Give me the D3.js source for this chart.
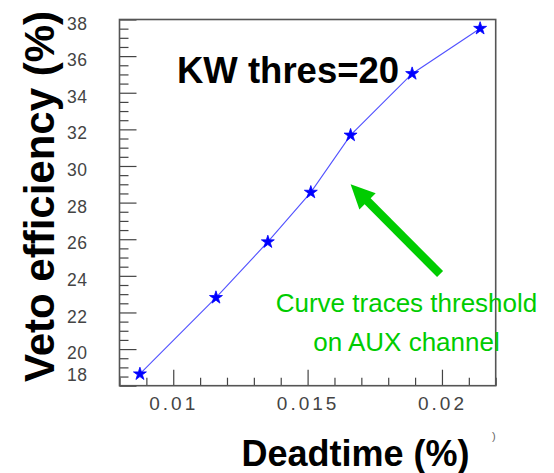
<!DOCTYPE html>
<html>
<head>
<meta charset="utf-8">
<script src="https://cdn.jsdelivr.net/npm/d3@7/dist/d3.min.js"></script>
<style>
  html, body { margin: 0; padding: 0; background: #fff; }
  svg { display: block; }
</style>
</head>
<body>
<script>
// ---- data ----
const deadtime   = [0.00876, 0.01159, 0.01352, 0.01512, 0.01660, 0.01889, 0.02142];
const efficiency = [18.64, 22.81, 25.85, 28.56, 31.68, 35.04, 37.51];
const yTicks = [18, 20, 22, 24, 26, 28, 30, 32, 34, 36, 38];
const xTicks = [0.01, 0.015, 0.02];
const xTickLabels = ["0.01", "0.015", "0.02"];
const titleText = "KW thres=20";
const noteLines = ["Curve traces threshold", "on AUX channel"];
const arrowTail = [0.01993, 24.1];
const arrowTip  = [0.01660, 29.0];

const W = 554, H = 473;
const mLeft = 119.5, mRight = 495.7, mTop = 19.5, mBottom = 385.7;

const svg = d3.select("body").append("svg").attr("width", W).attr("height", H);

const x = d3.scaleLinear().domain([0.008, 0.022]).range([mLeft, mRight]);
const y = d3.scaleLinear().domain([18, 38]).range([mBottom, mTop]);

const yMinor = d3.range(18, 38.001, 0.5).filter(v => Math.abs(v % 2) > 1e-6);
const xMinor = d3.range(0.008, 0.02201, 0.001).map(v => +v.toFixed(4)).filter(v => !xTicks.some(t => Math.abs(t - v) < 1e-7));

// minor ticks
svg.append("g").attr("transform", `translate(${mLeft},0)`)
  .call(d3.axisLeft(y).tickValues(yMinor).tickSize(-9).tickFormat(""))
  .call(g => g.select(".domain").remove())
  .selectAll("line").attr("stroke", "#444").attr("stroke-width", 1.2);
svg.append("g").attr("transform", `translate(0,${mBottom})`)
  .call(d3.axisBottom(x).tickValues(xMinor).tickSize(-8).tickFormat(""))
  .call(g => g.select(".domain").remove())
  .selectAll("line").attr("stroke", "#444").attr("stroke-width", 1.2);

// major Y axis
const gy = svg.append("g").attr("transform", `translate(${mLeft},0)`)
  .call(d3.axisLeft(y).tickValues(yTicks).tickSize(-17).tickPadding(32).tickFormat(d3.format("d")));
gy.select(".domain").remove();
gy.selectAll("line").attr("stroke", "#444").attr("stroke-width", 1.2);
gy.selectAll("text")
  .attr("font-family", "'Liberation Sans', Arial, sans-serif")
  .attr("font-size", 17.5).attr("fill", "#444")
  .attr("letter-spacing", "0.5px")
  .attr("dy", "0.55em")
  .filter(d => d === 18).attr("dy", "-0.3em");

// major X axis
const gx = svg.append("g").attr("transform", `translate(0,${mBottom})`)
  .call(d3.axisBottom(x).tickValues(xTicks).tickSize(-16).tickPadding(8).tickFormat((d, i) => xTickLabels[i]));
gx.select(".domain").remove();
gx.selectAll("line").attr("stroke", "#444").attr("stroke-width", 1.2);
gx.selectAll("text")
  .attr("font-family", "'Liberation Sans', Arial, sans-serif")
  .attr("font-size", 19).attr("fill", "#444")
  .attr("letter-spacing", "3px")
  .attr("dx", "0px")
  .attr("y", 24).attr("dy", 0);

// frame
svg.append("rect")
  .attr("x", mLeft).attr("y", mTop)
  .attr("width", mRight - mLeft).attr("height", mBottom - mTop)
  .attr("fill", "none").attr("stroke", "#555").attr("stroke-width", 1.6);

// data line
const pts = deadtime.map((d, i) => [d, efficiency[i]]);
svg.append("path")
  .datum(pts)
  .attr("d", d3.line().x(d => x(d[0])).y(d => y(d[1])))
  .attr("fill", "none").attr("stroke", "#3333ff").attr("stroke-width", 1.1).attr("opacity", 0.85);

// star markers
svg.selectAll("path.star").data(pts).enter().append("path")
  .attr("class", "star")
  .attr("transform", d => `translate(${x(d[0])},${y(d[1])})`)
  .attr("d", d3.symbol().type(d3.symbolStar).size(52))
  .attr("fill", "#0000ff").attr("stroke", "#0000ff").attr("stroke-width", 0.8);

// title inside plot
svg.append("text")
  .attr("x", 177).attr("y", 82.7)
  .attr("font-family", "'Liberation Sans', Arial, sans-serif")
  .attr("font-weight", "bold").attr("font-size", 36.5).attr("fill", "#000")
  .text(titleText);

// arrow
const green = "#00cc00";
const tx = x(arrowTip[0]), ty = y(arrowTip[1]);
const sx = x(arrowTail[0]), sy = y(arrowTail[1]);
const len = Math.hypot(tx - sx, ty - sy);
const ux = (tx - sx) / len, uy = (ty - sy) / len;
const headLen = 24, headHalf = 11.5;
const bx = tx - ux * headLen, by = ty - uy * headLen;
svg.append("line")
  .attr("x1", sx).attr("y1", sy).attr("x2", bx + ux * 2).attr("y2", by + uy * 2)
  .attr("stroke", green).attr("stroke-width", 8.5);
svg.append("path")
  .attr("d", `M${tx},${ty}L${bx - uy * headHalf},${by + ux * headHalf}L${bx + uy * headHalf},${by - ux * headHalf}Z`)
  .attr("fill", green);

// note text
svg.selectAll("text.note").data(noteLines).enter().append("text")
  .attr("class", "note")
  .attr("x", 406.5).attr("y", (d, i) => 312 + i * 39)
  .attr("text-anchor", "middle")
  .attr("font-family", "'Liberation Sans', Arial, sans-serif")
  .attr("font-size", 26).attr("fill", green)
  .text(d => d);

// axis titles
svg.append("text")
  .attr("transform", "translate(54,196.5) rotate(-90)")
  .attr("text-anchor", "middle")
  .attr("font-family", "'Liberation Sans', Arial, sans-serif")
  .attr("font-weight", "bold").attr("font-size", 42).attr("fill", "#000")
  .text("Veto efficiency (%)");
svg.append("text")
  .attr("x", 355.5).attr("y", 466)
  .attr("text-anchor", "middle")
  .attr("font-family", "'Liberation Sans', Arial, sans-serif")
  .attr("font-weight", "bold").attr("font-size", 36).attr("fill", "#000")
  .text("Deadtime (%)");

// small stray glyph near bottom right
svg.append("text")
  .attr("x", 492).attr("y", 440)
  .attr("font-family", "'Liberation Sans', Arial, sans-serif")
  .attr("font-size", 11).attr("fill", "#666")
  .text(")");
</script>
</body>
</html>
